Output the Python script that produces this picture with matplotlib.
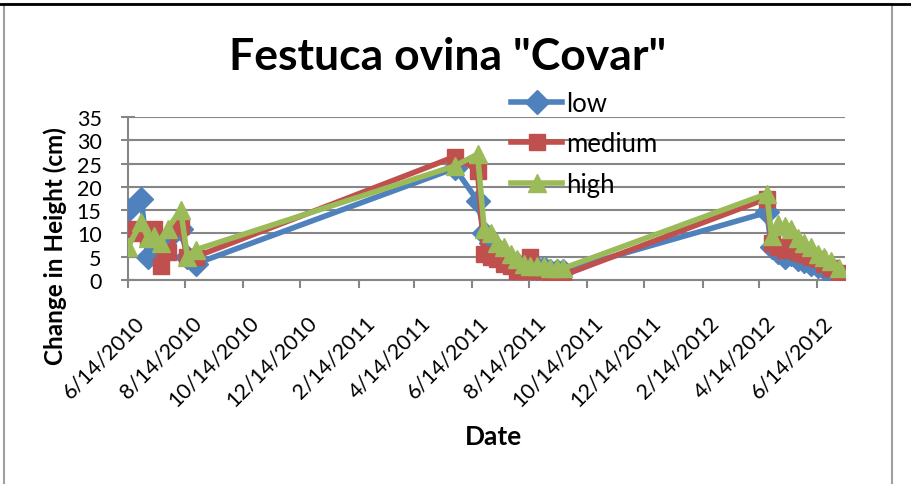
import pandas as pd
import matplotlib
matplotlib.use('Agg')
import matplotlib.pyplot as plt
from matplotlib.patches import Rectangle
from matplotlib.lines import Line2D
from matplotlib.transforms import ScaledTranslation

plt.rcParams['font.family'] = ['Lato', 'DejaVu Sans']

dates_2010 = ['2010-06-14', '2010-06-28', '2010-07-05', '2010-07-12', '2010-07-19',
              '2010-07-26', '2010-08-09', '2010-08-16', '2010-08-25']
dates_2011 = ['2011-05-27', '2011-06-20', '2011-06-27', '2011-07-04', '2011-07-11',
              '2011-07-18', '2011-07-25', '2011-08-01', '2011-08-08', '2011-08-15',
              '2011-08-22', '2011-08-29', '2011-09-05', '2011-09-12', '2011-09-19']
dates_2012 = ['2012-04-22', '2012-04-27', '2012-05-04', '2012-05-11', '2012-05-18',
              '2012-05-25', '2012-06-01', '2012-06-08', '2012-06-15', '2012-06-22',
              '2012-06-29', '2012-07-08']
dates = pd.to_datetime(dates_2010 + dates_2011 + dates_2012)

low = [15, 17.5, 5, 9, 8, 9, 11, 5, 3.5,
       24, 17, 10, 8, 6, 5, 4, 3.5, 3, 3, 2.5, 2.5, 2, 2, 2,
       14.5, 7, 6, 5, 5.5, 4.5, 4, 3.5, 3, 2.5, 1.5, 1]
medium = [11, 10, 9, 11, 3, 6, 11.5, 5, 5,
          26.5, 23.5, 5.5, 5, 4.5, 3.5, 3, 2, 2, 5, 2, 2, 1.5, 1, 1,
          17.5, 8, 7, 6.5, 7, 6, 5.5, 5, 4.5, 3.5, 2.5, 1.5]
high = [7, 12.5, 9, 9.5, 8, 11, 15, 5, 6.5,
        24.5, 27, 11, 10, 8, 7, 5.5, 4.5, 3.5, 3, 3, 3, 2.5, 2.5, 2.5,
        18.5, 9.5, 12, 11.5, 11, 9, 8, 7, 5.5, 5, 4, 2.5]

x_ticks = pd.date_range('2010-06-14', periods=13, freq=pd.DateOffset(months=2))
x_tick_labels = [f'{d.month}/{d.day}/{d.year}' for d in x_ticks]
y_ticks = [0, 5, 10, 15, 20, 25, 30, 35]

blue, red, green = '#4F81BD', '#C0504D', '#9BBB59'
grid_c = '#868686'

fig = plt.figure(figsize=(9.12, 4.85), dpi=100)
W, H = 912, 485

# chart frame
fig.patches.append(Rectangle((4 / W, -0.05), (892 - 4) / W, 1.05 - 5 / H,
                             transform=fig.transFigure, fill=False,
                             edgecolor='#A0A0A0', lw=1.5))
fig.lines.append(Line2D([0, 1], [1 - 5 / H, 1 - 5 / H], transform=fig.transFigure,
                        color='black', lw=2))

ax = fig.add_axes([128 / W, 1 - 281 / H, (845 - 128) / W, (281 - 118) / H])

ax.plot(dates, low, color=blue, lw=4, marker='D', ms=12, label='low', zorder=3)
ax.plot(dates, medium, color=red, lw=4, marker='s', ms=11, label='medium', zorder=4)
ax.plot(dates, high, color=green, lw=4, marker='^', ms=13, label='high', zorder=5)

ax.set_xlim(pd.Timestamp('2010-06-14'), pd.Timestamp('2012-07-14'))
ax.set_ylim(0, 35)
ax.set_yticks(y_ticks)
ax.set_xticks(x_ticks)
ax.set_xticklabels(x_tick_labels, rotation=45, ha='right', rotation_mode='anchor')
ax.tick_params(axis='both', labelsize=15.5, colors=grid_c, labelcolor='black')
ax.tick_params(axis='y', direction='inout', length=10, width=1.5, pad=14)
ax.tick_params(axis='x', direction='out', length=6, width=1.5, pad=17)
shift = ScaledTranslation(6 / 100, 0, fig.dpi_scale_trans)
for lbl in ax.get_xticklabels():
    lbl.set_transform(lbl.get_transform() + shift)

ax.grid(axis='y', color=grid_c, lw=1.5)
ax.set_axisbelow(True)
for s in ['top', 'right']:
    ax.spines[s].set_visible(False)
for s in ['left', 'bottom']:
    ax.spines[s].set_color(grid_c)
    ax.spines[s].set_linewidth(1.5)

fig.text(448 / W, 1 - 57 / H, 'Festuca ovina "Covar"', fontsize=32, fontweight='bold',
         ha='center', va='center')
fig.text(55 / W, 1 - 246 / H, 'Change in Height (cm)', fontsize=17.5, fontweight='bold',
         rotation=90, ha='center', va='center')
fig.text(494 / W, 1 - 437 / H, 'Date', fontsize=19, fontweight='bold',
         ha='center', va='center')

ax.legend(loc='upper left', bbox_to_anchor=(498 / W, 1 - 79 / H),
          bbox_transform=fig.transFigure, frameon=False, fontsize=18.5,
          handlelength=2.0, handletextpad=0.15, labelspacing=0.6, borderpad=0)

fig.savefig('out.png', dpi=100)
